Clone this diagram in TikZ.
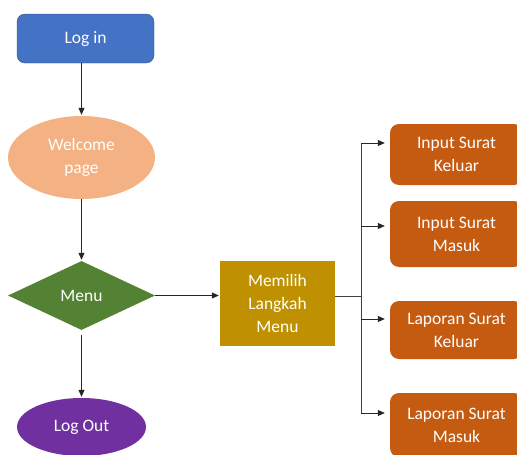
\documentclass[tikz,border=0pt]{standalone}
\usepackage{fontspec}
\setmainfont{Carlito}
\usetikzlibrary{shapes.geometric,arrows.meta}
\definecolor{loginblue}{HTML}{4472C4}
\definecolor{loginedge}{HTML}{2F528F}
\definecolor{welcomepeach}{HTML}{F4B183}
\definecolor{menugreen}{HTML}{548235}
\definecolor{pilihgold}{HTML}{BF9000}
\definecolor{suratorange}{HTML}{C55A11}
\definecolor{logoutpurple}{HTML}{7030A0}
\begin{document}
\begin{tikzpicture}[x=1pt,y=-1pt,
    every node/.style={font=\fontsize{17.5}{23}\selectfont, text=white, align=center, inner sep=0pt},
    flow/.style={-{Triangle[length=7pt,width=6pt]}, line width=0.8pt, draw=black!85},
    link/.style={line width=0.8pt, draw=black!75},
    surat/.style={rectangle, rounded corners=9pt, fill=suratorange, minimum width=133pt}]
  \useasboundingbox (0,0) rectangle (517,455);
  \clip (0,0) rectangle (517,455);
  \node[rectangle, rounded corners=8pt, draw=loginedge, fill=loginblue,
        minimum width=137pt, minimum height=49pt] (login) at (85.5,38.5) {Log in};
  \node[ellipse, fill=welcomepeach, minimum width=147pt, minimum height=83pt] (welcome) at (81.5,157.5) {Welcome\\page};
  \node[diamond, aspect=2.13, fill=menugreen, minimum width=147pt, minimum height=69pt] (menu) at (81.5,295.5) {Menu};
  \node[ellipse, fill=logoutpurple, minimum width=129pt, minimum height=58pt] (logout) at (81.5,427) {Log Out};
  \node[rectangle, fill=pilihgold, minimum width=115pt, minimum height=85pt] (pilih) at (277.5,303.5) {Memilih\\Langkah\\Menu};
  \node[surat, minimum height=61pt] (inkeluar) at (456.5,154.5) {Input Surat\\Keluar};
  \node[surat, minimum height=66pt] (inmasuk) at (456.5,234) {Input Surat\\Masuk};
  \node[surat, minimum height=58pt] (lapkeluar) at (456.5,330) {Laporan Surat\\Keluar};
  \node[surat, minimum height=64pt] (lapmasuk) at (456.5,425) {Laporan Surat\\Masuk};
  \coordinate (split) at (361,296);
  \begin{scope}[shorten >=1pt]
    \draw[flow] (welcome |- login.south) -- (welcome.north);
    \draw[flow] (welcome) -- (menu);
    \draw[flow, shorten <=5pt] (menu) -- (logout);
    \draw[flow] (menu) -- (menu -| pilih.west);
  \end{scope}
  \draw[link] (pilih.east |- split) -- (split);
  \draw[link] ([yshift=11.5pt]inkeluar.west -| split) -- ([yshift=12pt]lapmasuk.west -| split);
  \begin{scope}[shorten >=5pt]
    \draw[flow] ([yshift=11.5pt]inkeluar.west -| split) -- ([yshift=11.5pt]inkeluar.west);
    \draw[flow] ([yshift=8pt]inmasuk.west -| split) -- ([yshift=8pt]inmasuk.west);
    \draw[flow] ([yshift=11pt]lapkeluar.west -| split) -- ([yshift=11pt]lapkeluar.west);
    \draw[flow] ([yshift=12pt]lapmasuk.west -| split) -- ([yshift=12pt]lapmasuk.west);
  \end{scope}
\end{tikzpicture}
\end{document}
